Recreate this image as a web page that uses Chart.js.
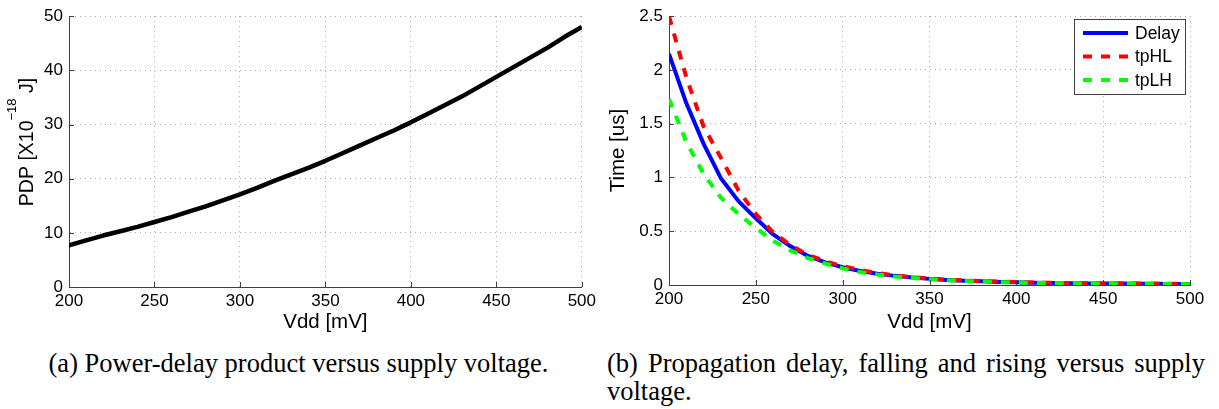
<!DOCTYPE html>
<html><head><meta charset="utf-8">
<script src="https://cdn.jsdelivr.net/npm/chart.js@4/dist/chart.umd.min.js"></script>
<style>
html,body{margin:0;padding:0;background:#fff;}
body{width:1219px;height:409px;position:relative;overflow:hidden;}
canvas{position:absolute;top:0;}
#c1{left:0;} #c2{left:600px;}
.cap{position:absolute;font-family:"Liberation Serif","Times New Roman",serif;font-size:26.5px;color:#000;line-height:28px;}
#capA{left:0;width:597px;top:349px;text-align:center;}
#capB{left:607px;width:598px;top:349px;text-align:justify;}
</style></head><body>
<canvas id="c1" width="600" height="340"></canvas>
<canvas id="c2" width="619" height="340"></canvas>
<div class="cap" id="capA">(a) Power-delay product versus supply voltage.</div>
<div class="cap" id="capB">(b) Propagation delay, falling and rising versus supply voltage.</div>
<script>
// ---- data ----
const vdd = [200,210,220,230,240,250,260,270,280,290,300,310,320,330,340,350,360,370,380,390,400,410,420,430,440,450,460,470,480,490,500];
const pdp = [7.7,8.6,9.5,10.3,11.1,12.0,12.9,13.9,14.9,16.0,17.1,18.3,19.6,20.8,22.0,23.3,24.7,26.1,27.5,28.9,30.4,32.0,33.6,35.2,37.0,38.8,40.6,42.4,44.2,46.2,48.0];
const delay = [2.15,1.69,1.31,0.99,0.78,0.62,0.47,0.36,0.27,0.21,0.165,0.13,0.105,0.085,0.07,0.057,0.047,0.04,0.034,0.029,0.025,0.022,0.019,0.017,0.015,0.014,0.013,0.012,0.011,0.010,0.009];
const tpHL = [2.50,1.93,1.47,1.18,0.88,0.66,0.49,0.37,0.28,0.22,0.175,0.14,0.11,0.09,0.073,0.06,0.05,0.042,0.036,0.031,0.027,0.023,0.02,0.018,0.016,0.015,0.014,0.013,0.012,0.011,0.010];
const tpLH = [1.73,1.33,1.03,0.81,0.66,0.53,0.41,0.32,0.25,0.20,0.155,0.12,0.098,0.08,0.066,0.054,0.045,0.038,0.032,0.027,0.023,0.02,0.018,0.016,0.014,0.013,0.012,0.011,0.010,0.009,0.008];
const xTicks = [200,250,300,350,400,450,500];
const pdpTicks = [0,10,20,30,40,50];
const timeTicks = [0,0.5,1,1.5,2,2.5];
const seriesNames = ['Delay','tpHL','tpLH'];
const xTitle = 'Vdd [mV]';
const timeTitle = 'Time [us]';
const pdpTitleParts = ['PDP [X10', '\u221218', ' J]'];

// ---- styling ----
const FONT = '"Liberation Sans", Arial, Helvetica, sans-serif';
Chart.defaults.font.family = FONT;
Chart.defaults.color = '#000';
const GRID = '#a8a8a8';
const AXIS = '#404040';

const pts = ys => vdd.map((v,i)=>({x:v,y:ys[i]}));

const inTicks = {id:'inTicks', afterDraw(chart){
  const {ctx, chartArea:a, scales:{x,y}} = chart;
  ctx.save(); ctx.strokeStyle = AXIS; ctx.lineWidth = 1; ctx.beginPath();
  x.ticks.forEach(t=>{const px=Math.round(x.getPixelForValue(t.value))+0.5; ctx.moveTo(px,a.bottom); ctx.lineTo(px,a.bottom-5);});
  y.ticks.forEach(t=>{const py=Math.round(y.getPixelForValue(t.value))+0.5; ctx.moveTo(a.left,py); ctx.lineTo(a.left+5,py);});
  ctx.stroke(); ctx.restore();
}};

const pdpTitle = {id:'pdpTitle', afterDraw(chart){
  const ctx = chart.ctx;
  const main = '19.5px ' + FONT, sup = '13px ' + FONT;
  const [t1,t2,t3] = pdpTitleParts;
  ctx.save();
  ctx.font = main; const w1 = ctx.measureText(t1).width, w3 = ctx.measureText(t3).width;
  ctx.font = sup; const w2 = ctx.measureText(t2).width;
  const total = w1+w2+w3;
  ctx.translate(27,142); ctx.rotate(-Math.PI/2);
  ctx.fillStyle = '#000'; ctx.textBaseline = 'alphabetic'; ctx.textAlign = 'left';
  let px = -total/2;
  ctx.font = main; ctx.fillText(t1, px, 6); px += w1;
  ctx.font = sup; ctx.fillText(t2, px, -11); px += w2;
  ctx.font = main; ctx.fillText(t3, px, 6);
  ctx.restore();
}};

const legendBox = {id:'legendBox', afterDraw(chart){
  const ctx = chart.ctx;
  const bx = 474, by = 19, bw = 111, bh = 75;
  ctx.save();
  ctx.fillStyle = '#fff'; ctx.fillRect(bx,by,bw,bh);
  ctx.strokeStyle = AXIS; ctx.lineWidth = 1; ctx.strokeRect(bx+0.5,by+0.5,bw,bh);
  chart.data.datasets.forEach((ds,i)=>{
    const cy = by + 14 + i*23.5;
    ctx.strokeStyle = ds.borderColor; ctx.lineWidth = 4; ctx.lineCap = 'butt';
    ctx.setLineDash(ds.borderDash || []);
    ctx.beginPath(); ctx.moveTo(bx+9,cy); ctx.lineTo(bx+54,cy); ctx.stroke();
    ctx.setLineDash([]);
    ctx.fillStyle = '#000'; ctx.font = '17.5px ' + FONT; ctx.textBaseline = 'middle'; ctx.textAlign = 'left';
    ctx.fillText(ds.label, bx+61, cy+1);
  });
  ctx.restore();
}};

function xScale(h, title){
  return {type:'linear', min:200, max:500,
    afterFit: s=>{s.height = h;},
    afterBuildTicks: s=>{s.ticks = xTicks.map(v=>({value:v}));},
    grid:{color:GRID, lineWidth:1, drawTicks:false},
    border:{display:true, color:AXIS, width:1, dash:[1,4]},
    ticks:{font:{size:17}, color:'#000', padding:4, maxRotation:0, callback:v=>String(v)},
    title:{display:true, text:title, font:{size:20.5}, color:'#000', padding:{top:0,bottom:5}}
  };
}
function yScale(w, max, ticks, title){
  const o = {type:'linear', min:0, max:max,
    afterFit: s=>{s.width = w;},
    afterBuildTicks: s=>{s.ticks = ticks.map(v=>({value:v}));},
    grid:{color:GRID, lineWidth:1, drawTicks:false},
    border:{display:true, color:AXIS, width:1, dash:[1,4]},
    ticks:{font:{size:17}, color:'#000', padding:6, callback:v=>String(v)}
  };
  o.title = title ? {display:true, text:title, font:{size:20.5}, color:'#000', padding:{top:6,bottom:0}} : {display:false};
  return o;
}
const common = {responsive:false, animation:false, events:[],
  plugins:{legend:{display:false}, tooltip:{enabled:false}}};

new Chart(document.getElementById('c1'), {
  type:'line',
  data:{datasets:[{label:'PDP', data:pts(pdp), borderColor:'#000', borderWidth:4.5, pointRadius:0, tension:0, borderJoinStyle:'round', fill:false}]},
  options:Object.assign({}, common, {
    layout:{padding:{left:0,right:16,top:16,bottom:0}},
    scales:{x:xScale(53, xTitle), y:yScale(69, 50, pdpTicks, null)}
  }),
  plugins:[inTicks, pdpTitle]
});

new Chart(document.getElementById('c2'), {
  type:'line',
  data:{datasets:[
    {label:seriesNames[0], data:pts(delay), borderColor:'#0000ff', borderWidth:4, pointRadius:0, tension:0, borderJoinStyle:'round', fill:false, order:2},
    {label:seriesNames[1], data:pts(tpHL), borderColor:'#ff0000', borderWidth:4, borderDash:[9,9], pointRadius:0, tension:0, fill:false, order:1},
    {label:seriesNames[2], data:pts(tpLH), borderColor:'#00ff00', borderWidth:4, borderDash:[9,9], pointRadius:0, tension:0, fill:false, order:0}
  ]},
  options:Object.assign({}, common, {
    layout:{padding:{left:0,right:29,top:12,bottom:0}},
    scales:{x:xScale(55, xTitle), y:yScale(69, 2.5, timeTicks, timeTitle)}
  }),
  plugins:[inTicks, legendBox]
});
</script>
</body></html>
